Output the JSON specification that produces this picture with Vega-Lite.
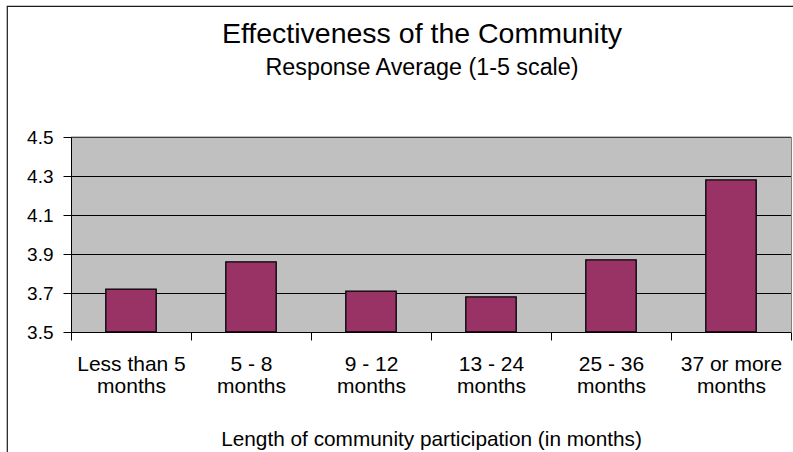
{
  "$schema": "https://vega.github.io/schema/vega-lite/v6.json",
  "width": 788,
  "height": 448,
  "autosize": {"type": "none"},
  "padding": {"left": 7, "top": 6, "right": -2, "bottom": -2},
  "background": "white",
  "config": {
    "font": "Liberation Sans",
    "view": {"stroke": "#1a1a1a", "strokeWidth": 1.2, "fill": "white"}
  },
  "title": {
    "text": "Effectiveness of the Community",
    "subtitle": "Response Average (1-5 scale)",
    "orient": "top",
    "anchor": "middle",
    "offset": -73,
    "dx": 21,
    "font": "Liberation Sans",
    "fontSize": 28.5,
    "fontWeight": "normal",
    "color": "#000000",
    "subtitleFont": "Liberation Sans",
    "subtitleFontSize": 23.3,
    "subtitleColor": "#000000",
    "subtitlePadding": 8
  },
  "data": {
    "values": [
      {"participation": "Less than 5 months", "average": 3.72},
      {"participation": "5 - 8 months", "average": 3.86},
      {"participation": "9 - 12 months", "average": 3.71},
      {"participation": "13 - 24 months", "average": 3.68},
      {"participation": "25 - 36 months", "average": 3.87},
      {"participation": "37 or more months", "average": 4.28}
    ]
  },
  "resolve": {"axis": {"x": "independent", "y": "independent"}},
  "layer": [
    {
      "mark": {"type": "bar", "fill": "#993366", "width": {"band": 0.42}},
      "encoding": {
        "x": {
          "field": "participation",
          "type": "nominal",
          "sort": null,
          "scale": {"range": [64, 784], "paddingInner": 0, "paddingOuter": 0},
          "axis": {
            "orient": "bottom",
            "offset": -122,
            "title": "Length of community participation (in months)",
            "titleFont": "Liberation Sans",
            "titleFontSize": 20.8,
            "titleFontWeight": "normal",
            "titleColor": "#000000",
            "titlePadding": 33,
            "labelAngle": 0,
            "labelExpr": "datum.label ? [replace(datum.label, ' months', ''), 'months'] : ''",
            "labelFont": "Liberation Sans",
            "labelFontSize": 21,
            "labelLineHeight": 22,
            "labelColor": "#000000",
            "labelPadding": 13,
            "labelFlush": false,
            "labelOverlap": false,
            "tickBand": "extent",
            "tickSize": 8,
            "tickColor": "#000000",
            "domainColor": "#000000",
            "domainWidth": 1,
            "grid": false
          }
        },
        "y": {
          "field": "average",
          "type": "quantitative",
          "scale": {"domain": [3.5, 4.5], "range": [326, 131], "nice": false, "zero": false},
          "axis": {
            "orient": "left",
            "offset": -64,
            "title": null,
            "values": [3.5, 3.7, 3.9, 4.1, 4.3, 4.5],
            "format": ".1f",
            "labelFont": "Liberation Sans",
            "labelFontSize": 19,
            "labelColor": "#000000",
            "labelPadding": 10,
            "tickSize": 8,
            "tickColor": "#000000",
            "domainColor": "#000000",
            "domainWidth": 1,
            "grid": true,
            "gridColor": "#000000",
            "gridWidth": 1,
            "gridOpacity": 1
          }
        },
        "y2": {"datum": 3.5}
      }
    },
    {
      "mark": {"type": "bar", "fill": null, "stroke": "#000000", "strokeWidth": 1.3, "width": {"band": 0.42}},
      "encoding": {
        "x": {
          "field": "participation",
          "type": "nominal",
          "sort": null,
          "axis": {
            "orient": "top",
            "offset": -131,
            "title": null,
            "labels": false,
            "ticks": false,
            "domain": true,
            "domainColor": "#808080",
            "domainWidth": 1,
            "grid": true,
            "gridColor": "#c0c0c0",
            "gridWidth": 120,
            "gridOpacity": 1,
            "translate": 0
          }
        },
        "y": {
          "field": "average",
          "type": "quantitative",
          "axis": {
            "orient": "right",
            "offset": -4,
            "title": null,
            "labels": false,
            "ticks": false,
            "grid": false,
            "domainColor": "#808080",
            "domainWidth": 1
          }
        },
        "y2": {"datum": 3.5}
      }
    }
  ]
}
